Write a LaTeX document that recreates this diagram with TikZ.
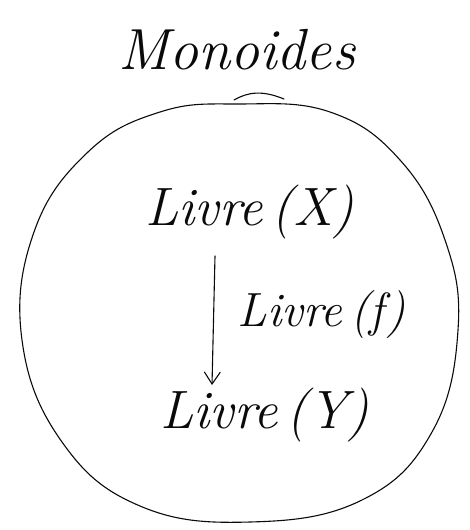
\documentclass[tikz,border=0pt]{standalone}
\usepackage{tikz}
\usepackage{xcolor}
\usetikzlibrary{arrows.meta, positioning, calc}
\definecolor{ink}{RGB}{10,10,10}

\tikzset{
  hand/.style={font=\fontsize{54}{58}\selectfont\itshape, text=ink, inner sep=0pt},
  handsmall/.style={font=\fontsize{48}{52}\selectfont\itshape, text=ink, inner sep=0pt},
  pen/.style={draw=ink, line width=1.1pt, line cap=round, line join=round},
}

\begin{document}
\begin{tikzpicture}[x=1pt, y=-1pt]
  \useasboundingbox (0,0) rectangle (470,530);

  % title
  \node[hand, font=\fontsize{58}{62}\selectfont\itshape] (title) at (237,50) {Monoides};
  \draw[pen] (234,100) .. controls (248,92) and (262,90) .. (284,99);

  % the blob
  \draw[pen] plot[smooth cycle, tension=0.7] coordinates {
    (238,104) (330,112) (400,160) (445,240) (458,330) (432,432)
    (362,500) (250,522) (140,506) (62,442) (22,340) (34,232)
    (88,152) (160,112)};

  % objects and the arrow
  \node[hand] (livX) at (250,212) {Livre\,(X)};
  \node[hand] (livY) at (265,415) {Livre\,(Y)};
  \coordinate (top) at (215,256);
  \coordinate (bot) at (212,385);
  \draw[pen, -{Straight Barb[length=12pt, width=16pt]}] (top) -- (bot);
  \node[handsmall, right=24pt of $(top)!0.45!(bot)$] (livF) {Livre\,(f)};
\end{tikzpicture}
\end{document}
